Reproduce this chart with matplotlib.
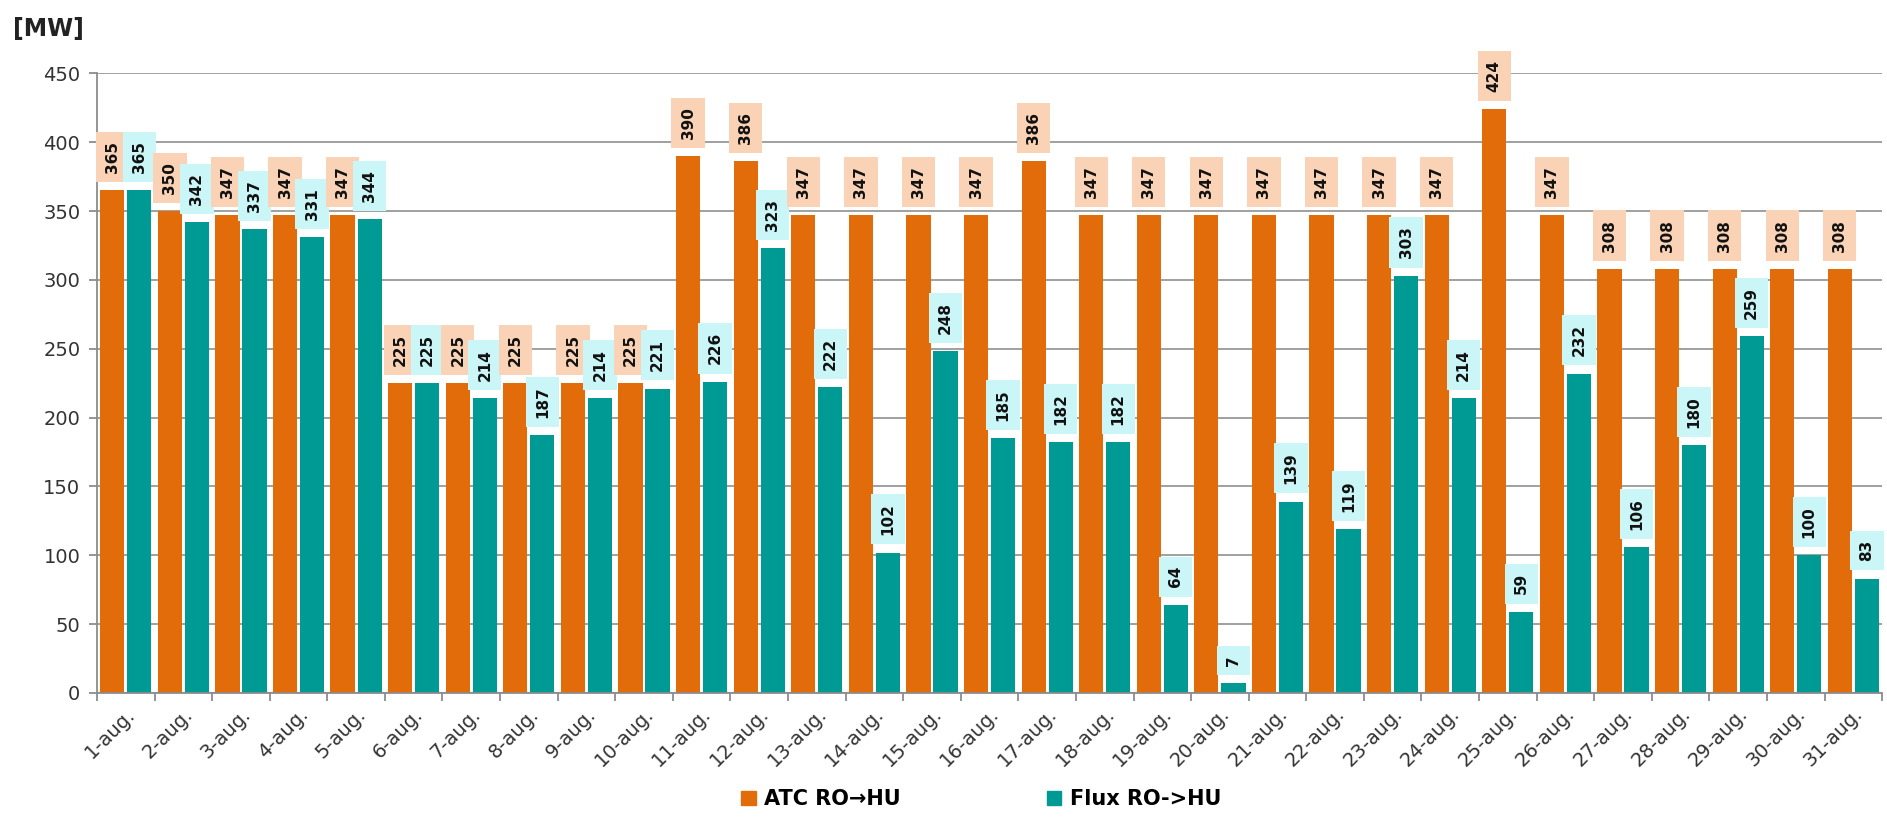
import numpy as np
import matplotlib
matplotlib.use("Agg")
import matplotlib.pyplot as plt
from matplotlib.patches import Patch

days = [f"{d}-aug." for d in range(1, 32)]

atc = [365, 350, 347, 347, 347, 225, 225, 225, 225, 225, 390, 386, 347, 347, 347, 347,
       386, 347, 347, 347, 347, 347, 347, 347, 424, 347, 308, 308, 308, 308, 308]
flux = [365, 342, 337, 331, 344, 225, 214, 187, 214, 221, 226, 323, 222, 102, 248, 185,
        182, 182, 64, 7, 139, 119, 303, 214, 59, 232, 106, 180, 259, 100, 83]

orange = "#E36C0A"
teal = "#009A94"
orange_bg = "#FAD3B6"
teal_bg = "#CBF6F7"
grey = "#8C8C8C"

fig = plt.figure(figsize=(18.87, 8.24), dpi=100)
ax = fig.add_axes([0.0514, 0.159, 0.946, 0.752])

x = np.arange(len(days))
w = 0.42
off = 0.235
ax.bar(x - off, atc, width=w, color=orange, zorder=2)
ax.bar(x + off, flux, width=w, color=teal, zorder=2)

# value labels in coloured boxes
for xi, a, f in zip(x, atc, flux):
    for xx, v, bg in ((xi - off, a, orange_bg), (xi + off, f, teal_bg)):
        ax.annotate(str(v), (xx, v), xytext=(0, 12.5), textcoords="offset points",
                    rotation=90, ha="center", va="bottom", fontsize=11,
                    fontweight="bold", color="#111111", zorder=4,
                    bbox=dict(boxstyle="square,pad=0.6", fc=bg, ec="none"))

ax.set_xlim(-0.5, len(days) - 0.5)
ax.set_ylim(0, 450)
ax.set_yticks(range(0, 451, 50))
ax.yaxis.grid(True, color="#999999", linewidth=1.3, zorder=0)
ax.set_axisbelow(True)

ax.set_xticks(x)
ax.set_xticklabels(days, rotation=45, ha="right", rotation_mode="anchor",
                   fontsize=14, color="#333333")
ax.set_xticks(np.arange(-0.5, len(days)), minor=True)
ax.tick_params(axis="x", which="major", length=0, pad=8)
ax.tick_params(axis="x", which="minor", length=6, color=grey, width=1.3)
ax.tick_params(axis="y", length=6, color=grey, width=1.3, labelsize=14,
               labelcolor="#333333", pad=6)

for s in ("top", "right"):
    ax.spines[s].set_visible(False)
for s in ("left", "bottom"):
    ax.spines[s].set_color(grey)
    ax.spines[s].set_linewidth(1.3)

fig.text(0.007, 0.965, "[MW]", fontsize=17, fontweight="bold", color="#222222",
         va="center", ha="left")

handles = [Patch(color=orange, label="ATC RO\u2192HU"),
           Patch(color=teal, label="Flux RO->HU")]
fig.legend(handles=handles, loc="lower center", bbox_to_anchor=(0.52, -0.005),
           ncol=2, frameon=False, columnspacing=7, handlelength=0.7,
           handleheight=0.7, handletextpad=0.4,
           prop={"weight": "bold", "size": 15})

fig.savefig("out.png", dpi=100)
